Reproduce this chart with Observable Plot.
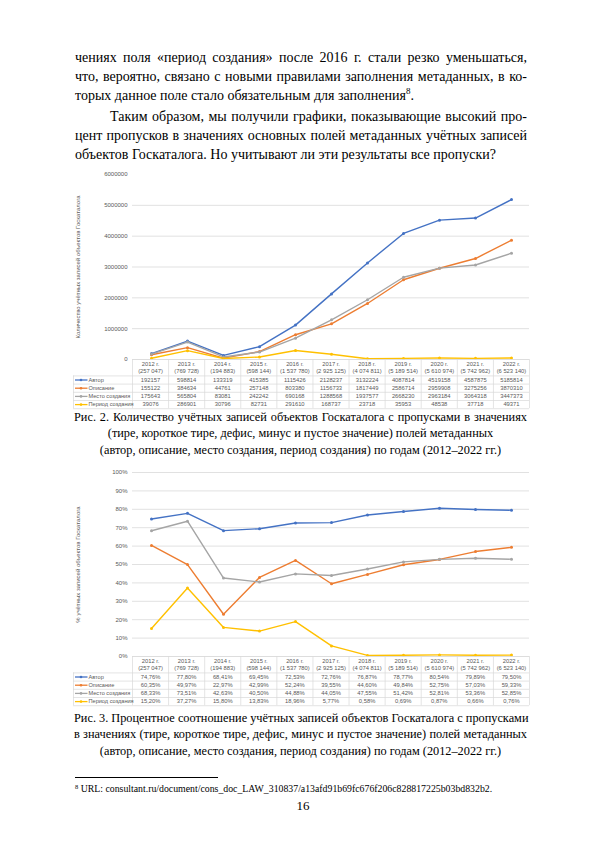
<!DOCTYPE html>
<html><head><meta charset="utf-8">
<script src="https://cdn.jsdelivr.net/npm/d3@7"></script>
<script src="https://cdn.jsdelivr.net/npm/@observablehq/plot@0.6"></script>
<style>
body{margin:0;background:#fff;}
#page{position:relative;width:600px;height:848px;overflow:hidden;font-family:"Liberation Serif","Times New Roman",serif;color:#000;background:#fff;}
.abs{position:absolute;}
.para{left:75px;width:452px;font-size:14px;line-height:19px;}
.para .j{text-align:justify;text-align-last:justify;white-space:nowrap;}
.para .l{text-align:left;white-space:nowrap;}
.cap{left:74px;width:453px;text-align:center;font-size:12.3px;line-height:16.4px;}
.cap div{white-space:nowrap;}
.cap .j{text-align:justify;text-align-last:justify;}
sup.n{font-size:9px;vertical-align:baseline;position:relative;top:-6px;}
svg{overflow:visible;}
</style></head>
<body><div id="page">
<div class="abs para" style="top:48px">
<div class="j">чениях поля «период создания» после 2016 г. стали резко уменьшаться,</div>
<div class="j">что, вероятно, связано с новыми правилами заполнения метаданных, в ко-</div>
<div class="l">торых данное поле стало обязательным для заполнения<sup class="n">8</sup>.</div>
<div class="j" style="text-indent:35px">Таким образом, мы получили графики, показывающие высокий про-</div>
<div class="j">цент пропусков в значениях основных полей метаданных учётных записей</div>
<div class="l">объектов Госкаталога. Но учитывают ли эти результаты все пропуски?</div>
</div>
<div id="c1" class="abs" style="left:60px;top:160px"></div>
<div id="t1" class="abs" style="left:60px;top:359px"></div>
<div class="abs cap" style="top:409px"><div class="j">Рис. 2. Количество учётных записей объектов Госкаталога с пропусками в значениях</div><div>(тире, короткое тире, дефис, минус и пустое значение) полей метаданных</div><div>(автор, описание, место создания, период создания) по годам (2012–2022 гг.)</div></div>
<div id="c2" class="abs" style="left:60px;top:460px"></div>
<div id="t2" class="abs" style="left:60px;top:656px"></div>
<div class="abs cap" style="top:710px"><div class="j">Рис. 3. Процентное соотношение учётных записей объектов Госкаталога с пропусками</div><div class="j">в значениях (тире, короткое тире, дефис, минус и пустое значение) полей метаданных</div><div>(автор, описание, место создания, период создания) по годам (2012–2022 гг.)</div></div>
<div class="abs" style="left:75px;top:777px;width:143px;border-top:0.8px solid #000"></div>
<div class="abs" style="left:75px;top:783px;font-size:9.8px;line-height:12px;white-space:nowrap"><sup style="font-size:6.5px;vertical-align:baseline;position:relative;top:-3px">8</sup> URL: consultant.ru/document/cons_doc_LAW_310837/a13afd91b69fc676f206c828817225b03bd832b2.</div>
<div class="abs" style="left:0;width:606px;top:798px;text-align:center;font-size:13px;line-height:16px">16</div>
</div>
<script>
// ---- data ----
const years = ["2012 г.","2013 г.","2014 г.","2015 г.","2016 г.","2017 г.","2018 г.","2019 г.","2020 г.","2021 г.","2022 г."];
const totals = [257047, 769728, 194883, 598144, 1537780, 2925125, 4074811, 5189514, 5610974, 5742962, 6523140];
const series = ["Автор","Описание","Место создания","Период создания"];
const colors = ["#4472C4","#ED7D31","#A5A5A5","#FFC000"];
const cntAuthor = [192157, 598814, 133319, 415385, 1115426, 2128237, 3132224, 4087814, 4519158, 4587875, 5185814];
const cntDescr  = [155122, 384634, 44761, 257148, 803380, 1156733, 1817449, 2586714, 2959908, 3275256, 3870310];
const cntPlace  = [175643, 565804, 83081, 242242, 690168, 1288568, 1937577, 2668230, 2963184, 3064318, 3447373];
const cntPeriod = [39076, 286901, 30796, 82731, 291610, 168737, 23718, 35953, 48538, 37718, 49371];
const pctAuthor = [74.76, 77.80, 68.41, 69.45, 72.53, 72.76, 76.87, 78.77, 80.54, 79.89, 79.50];
const pctDescr  = [60.35, 49.97, 22.97, 42.99, 52.24, 39.55, 44.60, 49.84, 52.75, 57.03, 59.33];
const pctPlace  = [68.33, 73.51, 42.63, 40.50, 44.88, 44.05, 47.55, 51.42, 52.81, 53.36, 52.85];
const pctPeriod = [15.20, 37.27, 15.80, 13.83, 18.96, 5.77, 0.58, 0.69, 0.87, 0.66, 0.76];
const countTicks = [0, 1000000, 2000000, 3000000, 4000000, 5000000, 6000000];
const pctTicks = [0, 10, 20, 30, 40, 50, 60, 70, 80, 90, 100];
const countLabel = "Количество учётных записей объектов Госкаталога";
const pctLabel = "% учётных записей объектов Госкаталога";

// ---- helpers ----
const loc = d3.formatLocale({decimal: ",", thousands: "\u00a0", grouping: [3], currency: ["", ""]});
const fmtTotal = d => "(" + loc.format(",")(d) + ")";
const fmtPct = d => loc.format(".2f")(d) + "%";
const toRows = arrs => series.flatMap((s, si) => arrs[si].map((v, i) => ({year: years[i], yi: i, series: s, si, value: v})));
const countRows = toRows([cntAuthor, cntDescr, cntPlace, cntPeriod]);
const pctRows = toRows([pctAuthor, pctDescr, pctPlace, pctPeriod]);

const W = 480, ML = 72, MR = 11;
const font = {fontFamily: "Liberation Sans, Arial, sans-serif", fontSize: "6px", color: "#595959", overflow: "visible", background: "transparent"};
const grid = "#d9d9d9";
const colorScale = {domain: series, range: colors};

function chart(rows, ticks, domain, gridTicks, tickFmt, label, height, marginTop) {
  return Plot.plot({
    width: W, height, marginLeft: ML, marginRight: MR, marginTop, marginBottom: 0,
    style: font,
    x: {type: "point", domain: years, padding: 0.5, axis: null},
    y: {domain, axis: null},
    color: colorScale,
    marks: [
      Plot.ruleY(gridTicks, {stroke: grid, strokeWidth: 0.8}),
      Plot.axisY(ticks, {tickSize: 0, tickPadding: 5, tickFormat: tickFmt, fill: "#595959", fontSize: 6, label: null}),
      Plot.text([label], {frameAnchor: "left", textAnchor: "middle", rotate: -90, dx: -54, text: d => d, fill: "#595959", fontSize: 6}),
      Plot.line(rows, {x: "year", y: "value", z: "series", stroke: "series", strokeWidth: 1.4}),
      Plot.dot(rows, {x: "year", y: "value", fill: "series", r: 1.5})
    ]
  });
}

function table(rows, fmt) {
  const n = years.length;
  const colPx = (W - ML - MR) / n;
  const L = (ML - 13) / colPx;           // legend column width in column units
  const u = px => -L + px / colPx;        // offset inside legend column
  return Plot.plot({
    width: W, height: 50, marginLeft: 13, marginRight: MR, marginTop: 0, marginBottom: 0.8,
    style: font,
    x: {type: "linear", domain: [-L, n], axis: null},
    y: {domain: [0, 6], reverse: true, axis: null},
    color: colorScale,
    marks: [
      Plot.ruleX(d3.range(n + 1), {y1: 0, y2: 6, stroke: grid, strokeWidth: 0.7}),
      Plot.ruleX([-L], {y1: 2, y2: 6, stroke: grid, strokeWidth: 0.7}),
      Plot.ruleY([2, 3, 4, 5, 6], {x1: -L, x2: n, stroke: grid, strokeWidth: 0.7}),
      Plot.ruleY([0], {x1: 0, x2: n, stroke: grid, strokeWidth: 0.9}),
      Plot.text(years, {x: (d, i) => i + 0.5, y: 0.55, text: d => d, fill: "#595959", fontSize: 5.8}),
      Plot.text(totals, {x: (d, i) => i + 0.5, y: 1.45, text: fmtTotal, fill: "#595959", fontSize: 5.8}),
      Plot.text(rows, {x: d => d.yi + 0.5, y: d => d.si + 2.5, text: d => fmt(d.value), fill: "#595959", fontSize: 5.8}),
      Plot.link(series, {x1: u(1.5), x2: u(14), y1: (d, i) => i + 2.5, y2: (d, i) => i + 2.5, stroke: d => d, strokeWidth: 1.3}),
      Plot.dot(series, {x: u(7.5), y: (d, i) => i + 2.5, fill: d => d, r: 1.3}),
      Plot.text(series, {x: u(15), y: (d, i) => i + 2.5, text: d => d, textAnchor: "start", fill: "#595959", fontSize: 5.6})
    ]
  });
}

document.getElementById("c1").append(
  chart(countRows, countTicks, [0, 6000000], countTicks.filter(d => d > 0 && d < 6000000), d => String(d), countLabel, 199, 14));
document.getElementById("t1").append(table(countRows, d => String(d)));
document.getElementById("c2").append(
  chart(pctRows, pctTicks, [0, 100], pctTicks.filter(d => d > 0), d => d + "%", pctLabel, 196, 12));
document.getElementById("t2").append(table(pctRows, fmtPct));
</script>
</body></html>
